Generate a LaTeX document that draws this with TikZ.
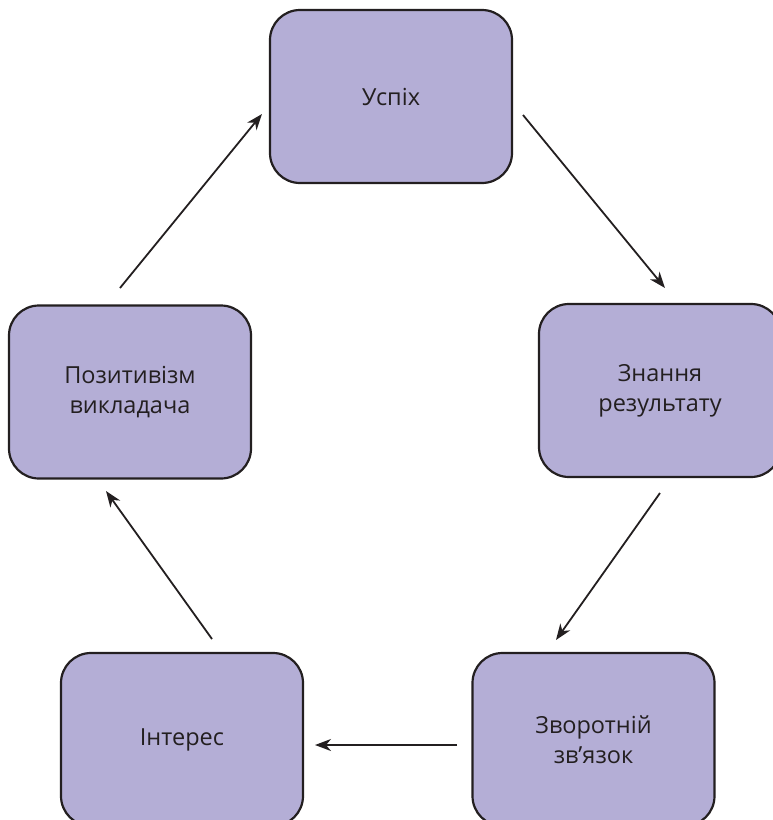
\documentclass[tikz,border=0pt]{standalone}
\usepackage{fontspec}
\setmainfont{Open Sans}
\usetikzlibrary{arrows.meta}
\definecolor{boxfill}{RGB}{180,174,214}
\definecolor{boxline}{RGB}{35,31,32}
\tikzset{
  stage/.style={draw=boxline, fill=boxfill, line width=2.2pt, rounded corners=30pt,
    minimum width=242pt, minimum height=173pt, inner sep=0pt, align=center,
    font=\fontsize{23.5}{30}\selectfont, text=boxline},
  flow/.style={draw=boxline, line width=1.8pt, -{Stealth[length=16pt,width=12pt,inset=5pt]}}
}
\begin{document}
\begin{tikzpicture}[x=1pt,y=-1pt]
\useasboundingbox (0,0) rectangle (772,820);
\node[stage] (uspikh) at (391,96.5) {Успіх};
\node[stage] (znannia) at (660,390.5) {Знання\\результату};
\node[stage] (pozyt) at (130,392) {Позитивізм\\викладача};
\node[stage] (interes) at (182,739.5) {Інтерес};
\node[stage] (zvorot) at (593.5,739.5) {Зворотній\\зв’язок};
\coordinate (a1s) at (120,288);  \coordinate (a1e) at (262,114);
\coordinate (a2s) at (523,115);  \coordinate (a2e) at (665,288);
\coordinate (a3s) at (660,493);  \coordinate (a3e) at (556,640);
\coordinate (a4s) at (457,745);  \coordinate (a4e) at (315,745);
\coordinate (a5s) at (212,639);  \coordinate (a5e) at (106,491);
\draw[flow] (a1s) -- (a1e);
\draw[flow] (a2s) -- (a2e);
\draw[flow] (a3s) -- (a3e);
\draw[flow] (a4s) -- (a4e);
\draw[flow] (a5s) -- (a5e);
\end{tikzpicture}
\end{document}
